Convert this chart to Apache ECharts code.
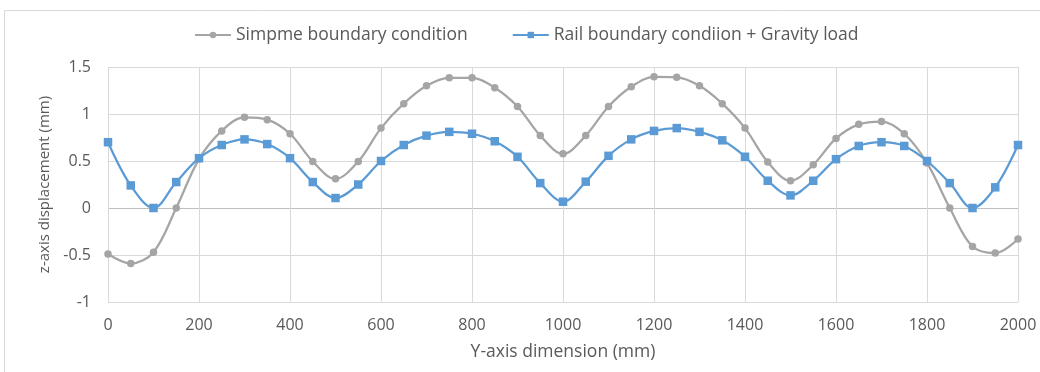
<!DOCTYPE html>
<html>
<head>
<meta charset="utf-8">
<script src="https://cdn.jsdelivr.net/npm/echarts@6/dist/echarts.min.js"></script>
<style>
html,body{margin:0;padding:0;background:#fff;}
#chart{width:1040px;height:372px;}
</style>
</head>
<body>
<div id="chart"></div>
<script>
var xValues = [0,50,100,150,200,250,300,350,400,450,500,550,600,650,700,750,800,850,900,950,1000,1050,1100,1150,1200,1250,1300,1350,1400,1450,1500,1550,1600,1650,1700,1750,1800,1850,1900,1950,2000];
var simpleBoundary = [-0.49,-0.59,-0.47,0.0,0.52,0.82,0.965,0.94,0.79,0.495,0.31,0.495,0.85,1.11,1.30,1.385,1.385,1.28,1.08,0.77,0.576,0.77,1.08,1.29,1.395,1.39,1.30,1.11,0.85,0.49,0.29,0.46,0.74,0.89,0.92,0.79,0.48,0.0,-0.41,-0.48,-0.33];
var railGravity = [0.70,0.24,0.0,0.276,0.53,0.67,0.73,0.68,0.53,0.276,0.106,0.25,0.50,0.67,0.77,0.81,0.79,0.71,0.545,0.265,0.067,0.28,0.555,0.73,0.82,0.85,0.81,0.72,0.545,0.29,0.134,0.29,0.52,0.66,0.70,0.66,0.50,0.265,0.0,0.22,0.67];
var seriesNames = ['Simpme boundary condition','Rail boundary condiion + Gravity load'];
var xAxisName = 'Y-axis dimension (mm)';
var yAxisName = 'z-axis displacement (mm)';

function pairs(ys){ return xValues.map(function(x,i){ return [x, ys[i]]; }); }

var FONT = '"Open Sans", "Liberation Sans", sans-serif';
var chart = echarts.init(document.getElementById('chart'), null, {renderer:'canvas'});
chart.setOption({
  animation:false,
  backgroundColor:'#ffffff',
  textStyle:{fontFamily:FONT},
  graphic:[{type:'rect', shape:{x:4.5,y:10.5,width:1100,height:500}, style:{fill:'none', stroke:'#D9D9D9', lineWidth:1}, silent:true, z:-10}],
  legend:{
    left:189, top:21,
    itemWidth:36, itemHeight:8, itemGap:44,
    textStyle:{fontFamily:FONT, fontSize:17.5, color:'#595959'},
    data:seriesNames
  },
  grid:{left:108, right:22, top:67, bottom:70, containLabel:false},
  xAxis:{
    type:'value', min:0, max:2000, interval:200,
    name:xAxisName, nameLocation:'middle', nameGap:41,
    nameTextStyle:{fontFamily:FONT, fontSize:17.5, color:'#595959'},
    axisLine:{show:false}, axisTick:{show:false},
    axisLabel:{fontFamily:FONT, fontSize:16, color:'#595959', margin:15, formatter:function(v){return String(v);}},
    splitLine:{show:true, lineStyle:{color:'#D9D9D9', width:1}}
  },
  yAxis:{
    type:'value', min:-1, max:1.5, interval:0.5,
    name:yAxisName, nameLocation:'middle', nameGap:56, nameRotate:90,
    nameTextStyle:{fontFamily:FONT, fontSize:15, color:'#595959'},
    axisLine:{show:false}, axisTick:{show:false},
    axisLabel:{fontFamily:FONT, fontSize:16, color:'#595959', margin:17},
    splitLine:{show:true, lineStyle:{color:['#D9D9D9','#D9D9D9','#BFBFBF','#D9D9D9','#D9D9D9','#D9D9D9'], width:1}}
  },
  series:[
    {name:seriesNames[0], type:'line', data:pairs(simpleBoundary), smooth:0.35,
     symbol:'circle', symbolSize:7.5, color:'#A5A5A5',
     lineStyle:{color:'#A5A5A5', width:2.25}, itemStyle:{color:'#A5A5A5'}},
    {name:seriesNames[1], type:'line', data:pairs(railGravity), smooth:0.35,
     symbol:'rect', symbolSize:8.5, color:'#5B9BD5',
     lineStyle:{color:'#5B9BD5', width:2.25}, itemStyle:{color:'#5B9BD5'}}
  ]
});
</script>
</body>
</html>
